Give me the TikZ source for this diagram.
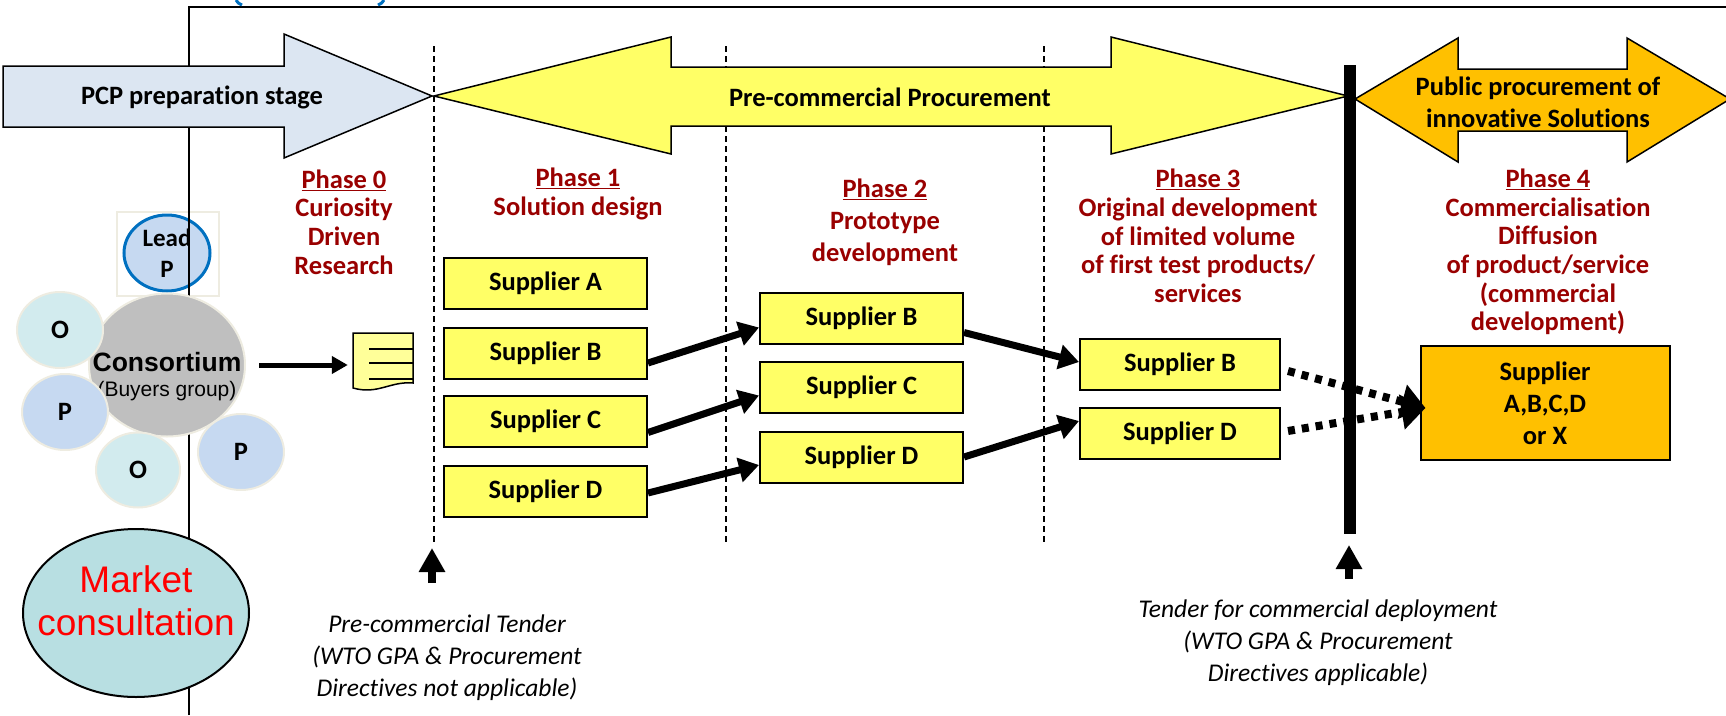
\documentclass[tikz,border=0pt]{standalone}
\usepackage{fontspec}
\setmainfont{Carlito}[Ligatures=NoCommon]
\newfontfamily\arialfont{Liberation Sans}
\usetikzlibrary{arrows.meta,shapes.geometric}
\definecolor{pcpblue}{HTML}{DCE6F2}
\definecolor{pcpyellow}{HTML}{FFFF66}
\definecolor{goldfill}{HTML}{FFC000}
\definecolor{phasered}{HTML}{990000}
\definecolor{docyellow}{HTML}{FFFF99}
\definecolor{pblue}{HTML}{C6D9F1}
\definecolor{ocyan}{HTML}{D2EBEE}
\definecolor{leadedge}{HTML}{0070C0}
\definecolor{bubbleedge}{HTML}{EEECE1}
\definecolor{consgray}{HTML}{BFBFBF}
\definecolor{marketfill}{HTML}{B8DFE2}
\begin{document}
\begin{tikzpicture}[x=1pt,y=-1pt,
  suppbox/.style={draw,line width=2pt,fill=pcpyellow,minimum width=203pt,minimum height=51pt,
    inner sep=0pt,font=\bfseries\fontsize{26.5}{28.7}\selectfont},
  phaselbl/.style={text=phasered,align=center,font=\bfseries\fontsize{26.5}{28.7}\selectfont},
  bigtext/.style={align=center,font=\bfseries\fontsize{26.5}{32}\selectfont},
  tendertxt/.style={align=center,font=\itshape\fontsize{25.5}{32}\selectfont},
  thickarrow/.style={line width=7pt,-{Triangle[length=20pt,width=24pt]}},
  dotarrow/.style={line width=8pt,dash pattern=on 7pt off 7pt,-{Triangle[length=24pt,width=34pt]}},
  uparrow/.style={line width=8pt,-{Triangle[length=24pt,width=25pt]}},
  bubble/.style={ellipse,draw=bubbleedge,line width=2pt,minimum width=86pt,minimum height=76pt,
    inner sep=0pt,align=center,font=\bfseries\fontsize{26.5}{31}\selectfont}]
  \useasboundingbox (0,0) rectangle (1726,715);

  % lead partner, then the frame over it
  \draw[bubbleedge,line width=1.5pt] (117,212) rectangle (219,296);
  \node[bubble,fill=pblue,draw=leadedge,line width=3pt,font=\bfseries\fontsize{25}{31}\selectfont]
    (leadP) at (167,253) {Lead\\P};
  \draw[line width=1.5pt] (189,715) -- (189,7) -- (1730,7);
  \draw[leadedge,line width=3pt] (236,0) .. controls (238,3) .. (242,5);
  \draw[leadedge,line width=3pt] (384,0) .. controls (382,3) .. (378,5);

  % phase borders
  \foreach \x in {434,726,1044}
    \draw[line width=1.2pt,dash pattern=on 6pt off 4pt] (\x,46) -- (\x,542);

  % stage arrows
  \draw[fill=pcpblue,line width=1.5pt] (3,66) -- (284,66) -- (284,34) -- (432,96)
    -- (284,158) -- (284,127) -- (3,127) -- cycle;
  \node[bigtext] (prep) at (202,97) {PCP preparation stage};
  \draw[fill=pcpyellow,line width=1.5pt] (434,96) -- (671,37) -- (671,67) -- (1111,67)
    -- (1111,37) -- (1348,96) -- (1111,154) -- (1111,126) -- (671,126) -- (671,154) -- cycle;
  \node[bigtext] (pcp) at (890,97) {Pre-commercial Procurement};
  \draw[fill=goldfill,line width=1.5pt] (1355,99) -- (1458,38) -- (1458,69) -- (1627,69)
    -- (1627,38) -- (1730,99) -- (1627,162) -- (1627,131) -- (1458,131) -- (1458,162) -- cycle;
  \node[bigtext] (ppi) at (1538,102) {Public procurement of\\innovative Solutions};
  \draw[line width=12pt] (1350,65) -- (1350,534);

  % phases
  \node[phaselbl] (ph0) at (344,222) {\underline{Phase 0}\\Curiosity\\Driven\\Research};
  \node[phaselbl] (ph1) at (578,194) {\underline{Phase 1}\\Solution design};
  \node[phaselbl,font=\bfseries\fontsize{26.5}{32}\selectfont] (ph2) at (885,222)
    {\underline{Phase 2}\\Prototype\\development};
  \node[phaselbl] (ph3) at (1198,236) {\underline{Phase 3}\\Original development\\of limited volume\\of first test products/\\services};
  \node[phaselbl] (ph4) at (1548,252) {\underline{Phase 4}\\Commercialisation\\Diffusion\\of product/service\\(commercial\\development)};

  % suppliers
  \foreach \s/\y in {A/283.5,B/353,C/421.5,D/491}
    \node[suppbox] (p1\s) at (545.5,\y) {Supplier \s};
  \foreach \s/\y in {B/318.5,C/387.5,D/457}
    \node[suppbox] (p2\s) at (861.5,\y) {Supplier \s};
  \foreach \s/\y in {B/364,D/433}
    \node[suppbox,minimum width=200pt] (p3\s) at (1180,\y) {Supplier \s};
  \node[suppbox,fill=goldfill,minimum width=249pt,minimum height=114pt,align=center,
    font=\bfseries\fontsize{26.5}{32}\selectfont] (p4) at (1545,403) {Supplier\\A,B,C,D\\or X};

  \draw[thickarrow] ([yshift=-10pt]p1B.east) -- ([yshift=-9pt]p2B.west);
  \draw[thickarrow] ([yshift=-11pt]p1C.east) -- ([yshift=-8pt]p2C.west);
  \draw[thickarrow] ([yshift=-2pt]p1D.east) -- ([yshift=-8pt]p2D.west);
  \draw[thickarrow] ([yshift=-14pt]p2B.east) -- ([yshift=2pt]p3B.west);
  \draw[thickarrow] (p2D.east) -- ([yshift=12pt]p3D.west);
  \draw[dotarrow] ([xshift=7pt,yshift=-7pt]p3B.east) -- ([xshift=6pt,yshift=-5pt]p4.west);
  \draw[dotarrow] ([xshift=7pt,yshift=2pt]p3D.east) -- ([xshift=6pt,yshift=-5pt]p4.west);

  % tenders
  \coordinate (tn1a) at (432,583);
  \coordinate (tn1b) at (432,548);
  \draw[uparrow] (tn1a) -- (tn1b);
  \node[tendertxt] (tn1) at (447,658) {Pre-commercial Tender\\(WTO GPA \& Procurement\\Directives not applicable)};
  \coordinate (tn2a) at (1349,579);
  \coordinate (tn2b) at (1349,545);
  \draw[uparrow] (tn2a) -- (tn2b);
  \node[tendertxt] (tn2) at (1318,643) {Tender for commercial deployment\\(WTO GPA \& Procurement\\Directives applicable)};

  % call for tender document
  \node[minimum width=60pt,minimum height=57pt,inner sep=0pt] (doc) at (383,361.5) {};
  \draw[fill=docyellow,line width=1.5pt] (353,333) -- (413,333) -- (413,383)
    .. controls (390,381) and (378,395) .. (353,388) -- cycle;
  \foreach \y in {349,363,379}
    \draw[line width=1.5pt] (369,\y) -- (413,\y);

  % buyers group
  \node[bubble,fill=consgray,minimum width=156pt,minimum height=143pt] (cons) at (167,365) {};
  \node[align=center,font=\arialfont\fontsize{21}{25}\selectfont] (constxt) at (167,377)
    {{\bfseries\fontsize{26.5}{25}\selectfont Consortium}\\(Buyers group)};
  \node[bubble,fill=ocyan] (o1) at (60,330) {O};
  \node[bubble,fill=pblue] (pa) at (65,412) {P};
  \node[bubble,fill=ocyan,minimum width=84pt,minimum height=75pt] (o2) at (138,470) {O};
  \node[bubble,fill=pblue] (pb) at (241,452) {P};
  \draw[line width=5pt,-{Triangle[length=16pt,width=17pt]},shorten <=13pt,shorten >=5pt]
    (cons.east) -- (cons.east -| doc.west);

  \node[ellipse,draw,line width=2pt,fill=marketfill,minimum width=226pt,minimum height=168pt] (market) at (136,613) {};
  \node[align=center,text=red,font=\arialfont\fontsize{37}{43}\selectfont] (mkttxt) at (136,601) {Market\\consultation};
\end{tikzpicture}
\end{document}
